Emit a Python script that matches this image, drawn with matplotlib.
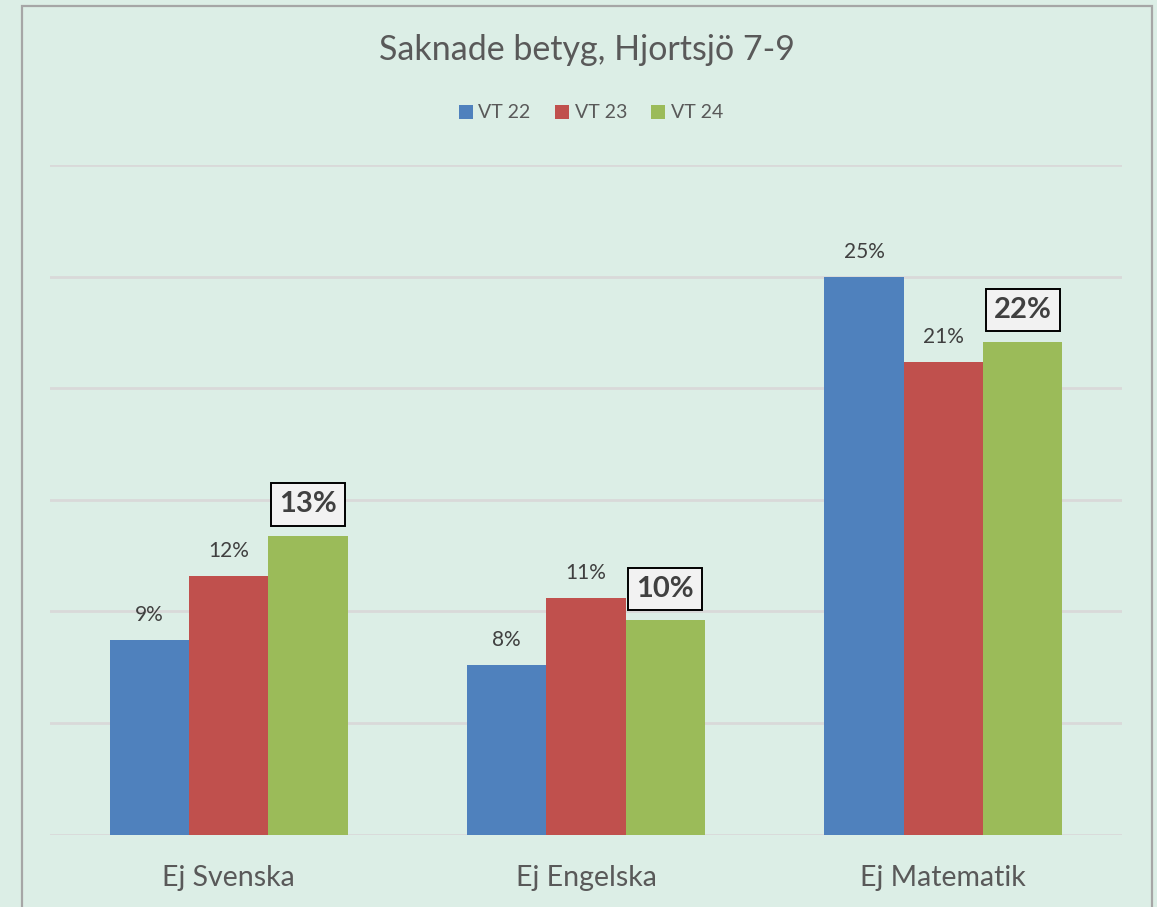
import matplotlib
matplotlib.use('Agg')
import matplotlib.pyplot as plt
import numpy as np
from matplotlib.patches import Rectangle

# data
kategorier = ['Ej Svenska', 'Ej Engelska', 'Ej Matematik']
serier = ['VT 22', 'VT 23', 'VT 24']
vt22 = [8.7, 7.6, 25.0]
vt23 = [11.6, 10.6, 21.2]
vt24 = [13.4, 9.6, 22.1]
farger = ['#4F81BD', '#C0504D', '#9BBB59']

bg = '#DCEEE6'
plt.rcParams['font.family'] = ['Lato', 'DejaVu Sans']

W, H = 1157, 907
fig = plt.figure(figsize=(W / 100, H / 100), dpi=100, facecolor=bg)
ax = fig.add_axes([50 / W, 1 - 834.5 / H, 1072 / W, (834.5 - 165.3) / H])
ax.set_facecolor(bg)

x = np.arange(len(kategorier))
bw = 0.222
for i, (vals, namn, f) in enumerate(zip([vt22, vt23, vt24], serier, farger)):
    pos = x + (i - 1) * bw
    ax.bar(pos, vals, bw, color=f, label=namn, zorder=3)
    for p, v in zip(pos, vals):
        if i == 2:
            ax.annotate(f'{v:.0f}%', (p, v), xytext=(0, 22.5), textcoords='offset points',
                        ha='center', va='center', fontsize=21, fontweight='bold', color='#404040',
                        bbox=dict(boxstyle='square,pad=0.28', fc='#F2F2F2', ec='black', lw=1.4),
                        zorder=5)
        else:
            ax.annotate(f'{v:.0f}%', (p, v), xytext=(0, 18), textcoords='offset points',
                        ha='center', va='center', fontsize=15, color='#404040', zorder=5)

ax.set_xlim(-0.5, 2.5)
ax.set_ylim(0, 30)
ax.set_yticks(np.arange(0, 31, 5))
ax.set_yticklabels([])
ax.tick_params(axis='both', length=0)
ax.grid(axis='y', color='#D9D9D9', lw=2, zorder=0)
for s in ax.spines.values():
    s.set_visible(False)
ax.set_xticks(x)
ax.set_xticklabels(kategorier, fontsize=20.5, color='#595959')
ax.tick_params(axis='x', pad=22)

fig.text(587 / W, 1 - 50 / H, 'Saknade betyg, Hjortsjö 7-9', ha='center', va='center',
         fontsize=24.5, color='#595959')
leg = fig.legend(loc='center', bbox_to_anchor=(591 / W, 1 - 113 / H), ncol=3, frameon=False,
                 fontsize=14, handlelength=0.72, handleheight=0.72, handletextpad=0.3,
                 columnspacing=1.25, labelcolor='#595959')

fig.add_artist(Rectangle((21.5 / W, -0.05), (1152 - 21.5) / W, 1.05 - 6 / H,
                         transform=fig.transFigure, fill=False, ec='#A6A6A6', lw=1.6))

fig.savefig('out.png', dpi=100, facecolor=bg)
